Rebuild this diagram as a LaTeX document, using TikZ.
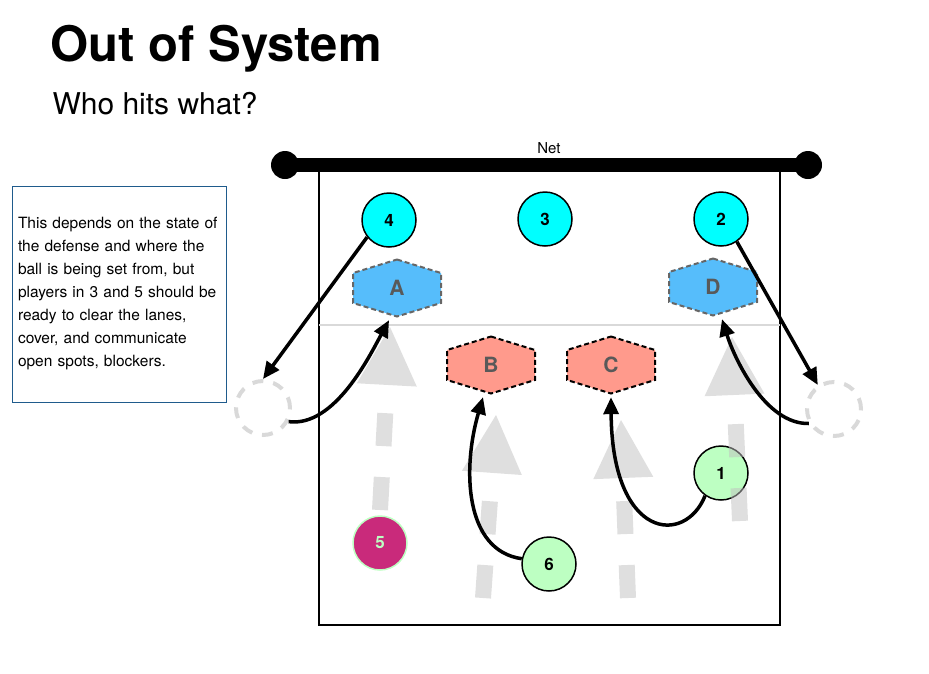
\documentclass[tikz,border=0pt]{standalone}
\usepackage{fontspec}
\setmainfont{TeX Gyre Heros}
\usetikzlibrary{arrows.meta}
\definecolor{frontcyan}{HTML}{00FFFF}
\definecolor{backgreen}{HTML}{BDFFC2}
\definecolor{liberomag}{HTML}{C92A7B}
\definecolor{blockblue}{HTML}{56BDFB}
\definecolor{blocksalmon}{HTML}{FF9A8C}
\definecolor{noteblue}{HTML}{1F5B8C}

\begin{document}
\begin{tikzpicture}[x=1pt, y=-1pt,
  player/.style={circle, draw=black, line width=1.5pt, minimum size=54pt, inner sep=0pt, font=\fontsize{17}{17}\selectfont\bfseries},
  ghost/.style={circle, draw=black!15, line width=4pt, dash pattern=on 11pt off 10pt, minimum size=54pt, inner sep=0pt},
  hexlabel/.style={minimum width=88pt, minimum height=64pt, inner sep=0pt, text=black!65, font=\fontsize{21}{21}\selectfont\bfseries},
  hexblue/.style={fill=blockblue, draw=black!60, line width=2pt, dash pattern=on 5pt off 3pt},
  hexred/.style={fill=blocksalmon, draw=black, line width=2pt, dash pattern=on 5pt off 3pt},
  lane/.style={draw=black!25, opacity=0.5, line width=16pt, dash pattern=on 33pt off 31pt, -{Triangle[width=60pt, length=58pt, line width=0pt]}},
  move/.style={line width=3.5pt, -{Triangle[length=17pt, width=15pt]}},
  netpost/.style={circle, fill=black, minimum size=28pt, inner sep=0pt}]
\useasboundingbox (0,0) rectangle (929,673);
\node[anchor=base west, font=\fontsize{49}{49}\selectfont\bfseries] (title) at (47,61) {Out of System};
\node[anchor=base west, font=\fontsize{30}{30}\selectfont] (subtitle) at (49,114) {Who hits what?};

\node[draw=noteblue, line width=0.8pt, minimum width=214pt, minimum height=216pt, text width=202pt, inner sep=6pt, align=left, font=\fontsize{15.5}{23}\selectfont] (note) at (119,294)
  {This depends on the state of\\ the defense and where the\\ ball is being set from, but\\ players in 3 and 5 should be\\ ready to clear the lanes,\\ cover, and communicate\\ open spots, blockers.};

\draw[line width=2pt] (319,165) rectangle (780,625);
\draw[black!15, line width=2pt] (319,325) -- (780,325);
\node[netpost] (postL) at (285,165) {};
\node[netpost] (postR) at (808,165) {};
\draw[line width=14pt] (postL.center) -- (postR.center);
\node[font=\fontsize{15}{15}\selectfont] (net) at (549,148) {Net};

\draw[hexblue] (397,259.5) -- (441,273) -- (441,303) -- (397,316.5) -- (353,303) -- (353,273) -- cycle;
\node[hexlabel] (A) at (397,288) {A};
\draw[hexblue] (713,258.5) -- (757,272) -- (757,302) -- (713,315.5) -- (669,302) -- (669,272) -- cycle;
\node[hexlabel] (D) at (713,287) {D};
\draw[hexred] (491,336.5) -- (535,350) -- (535,380) -- (491,393.5) -- (447,380) -- (447,350) -- cycle;
\node[hexlabel] (B) at (491,365) {B};
\draw[hexred] (611,336.5) -- (655,350) -- (655,380) -- (611,393.5) -- (567,380) -- (567,350) -- cycle;
\node[hexlabel] (C) at (611,365) {C};

\node[player, fill=frontcyan] (p4) at (389,220) {4};
\node[player, fill=frontcyan] (p3) at (545,219) {3};
\node[player, fill=frontcyan] (p2) at (721,219) {2};
\node[player, fill=backgreen] (p1) at (721,473) {1};
\node[player, fill=backgreen] (p6) at (549,564) {6};
\node[player, fill=liberomag, draw=backgreen, text=backgreen] (p5) at (380,543) {5};
\node[ghost] (ghostL) at (263,408) {};
\node[ghost] (ghostR) at (834,409) {};

\coordinate (lane5) at (380,510);
\coordinate (lane5tip) at (390,327);
\coordinate (lane6) at (483,598);
\coordinate (lane6tip) at (496,415);
\coordinate (lane1) at (628,598);
\coordinate (lane1tip) at (621,420);
\coordinate (lane2) at (740,521);
\coordinate (lane2tip) at (732,337);
\draw[lane] (lane5) -- (lane5tip);
\draw[lane] (lane6) -- (lane6tip);
\draw[lane] (lane1) -- (lane1tip);
\draw[lane] (lane2) -- (lane2tip);

\draw[move] (p4.218) -- (ghostL.north);
\draw[move] (ghostL.-28) .. controls +(46,6) and +(-19,35) .. ([xshift=-8pt]A.south);
\draw[move] (p2.-55) -- (ghostR.124);
\draw[move] (ghostR.210) .. controls +(-43,1) and +(13,41) .. ([xshift=9pt]D.south);
\draw[move] (p6.169) .. controls +(-57,-8) and +(-21,72) .. ([xshift=-8pt]B.south);
\draw[move] (p1.235) .. controls +(-20,50) and +(1,143) .. (C.south);
\end{tikzpicture}
\end{document}
